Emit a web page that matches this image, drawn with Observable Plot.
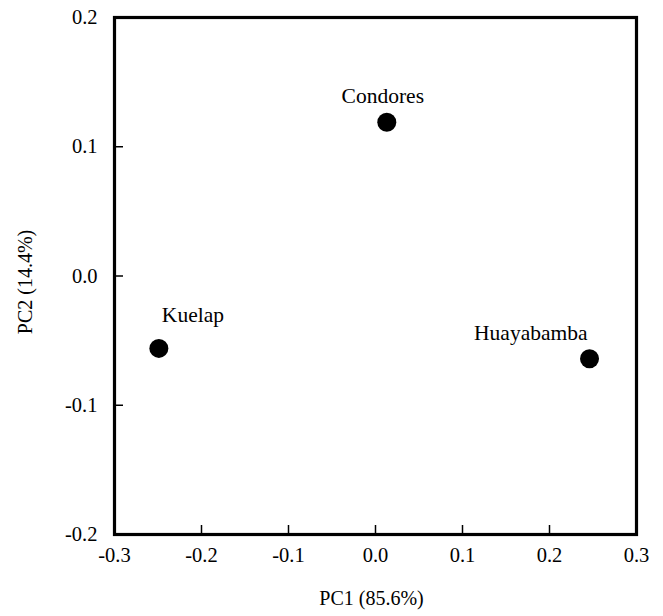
<!DOCTYPE html>
<html>
<head>
<meta charset="utf-8">
<script src="https://cdn.jsdelivr.net/npm/d3@7"></script>
<script src="https://cdn.jsdelivr.net/npm/@observablehq/plot@0.6"></script>
<style>
  html, body { margin: 0; padding: 0; background: #fff; }
  #chart svg { display: block; }
  #chart svg, #chart svg text { font-family: 'Liberation Serif', 'Times New Roman', serif !important; }
</style>
</head>
<body>
<div id="chart"></div>
<script>
const sites = ["Condores", "Kuelap", "Huayabamba"];
const pc1 = [0.013, -0.249, 0.246];
const pc2 = [0.119, -0.056, -0.064];
const xTicks = [-0.3, -0.2, -0.1, 0.0, 0.1, 0.2, 0.3];
const yTicks = [-0.2, -0.1, 0.0, 0.1, 0.2];
const xTitle = "PC1 (85.6%)";
const yTitle = "PC2 (14.4%)";

const data = sites.map((s, i) => ({site: s, x: pc1[i], y: pc2[i]}));
const fmt = d => d.toFixed(1);
const font = "'Liberation Serif', 'Times New Roman', serif";

const chart = Plot.plot({
  width: 663,
  height: 616,
  marginLeft: 114,
  marginRight: 27,
  marginTop: 17,
  marginBottom: 82,
  style: {fontFamily: font, fontSize: "20px", color: "#000", background: "#fff"},
  x: {domain: [-0.3, 0.3]},
  y: {domain: [-0.2, 0.2]},
  marks: [
    // tick labels
    Plot.axisX(xTicks, {tickSize: 0, tickPadding: 13, tickFormat: fmt, label: null, fontSize: 20.5, fontFamily: font}),
    Plot.axisY(yTicks, {tickSize: 0, tickPadding: 17, tickFormat: fmt, label: null, fontSize: 20.5, fontFamily: font}),
    // inward ticks
    Plot.axisX(xTicks, {tickSize: 9, dy: -9, tickFormat: () => "", label: null, strokeWidth: 1.5}),
    Plot.axisY(yTicks, {tickSize: 9, dx: 9, tickFormat: () => "", label: null, strokeWidth: 1.5}),
    Plot.frame({stroke: "#000", strokeWidth: 3.2}),
    Plot.dot(data, {x: "x", y: "y", r: 9.5, fill: "#000", stroke: "none"}),
    Plot.text(data.filter(d => d.site === "Condores"), {x: "x", y: "y", text: "site", dy: -26, dx: -4, fontSize: 21.5, fontFamily: font, fill: "#000"}),
    Plot.text(data.filter(d => d.site === "Kuelap"), {x: "x", y: "y", text: "site", dy: -33, dx: 3, textAnchor: "start", fontSize: 21.5, fontFamily: font, fill: "#000"}),
    Plot.text(data.filter(d => d.site === "Huayabamba"), {x: "x", y: "y", text: "site", dy: -26, dx: -2, textAnchor: "end", fontSize: 21.5, fontFamily: font, fill: "#000"}),
    // axis titles
    Plot.text([xTitle], {frameAnchor: "bottom", dy: 70, dx: -4, text: d => d, fontSize: 20, fontFamily: font, fill: "#000"}),
    Plot.text([yTitle], {frameAnchor: "left", textAnchor: "middle", dx: -89, dy: 6, rotate: -90, text: d => d, fontSize: 20, fontFamily: font, fill: "#000"})
  ]
});
document.getElementById("chart").appendChild(chart);
</script>
</body>
</html>
